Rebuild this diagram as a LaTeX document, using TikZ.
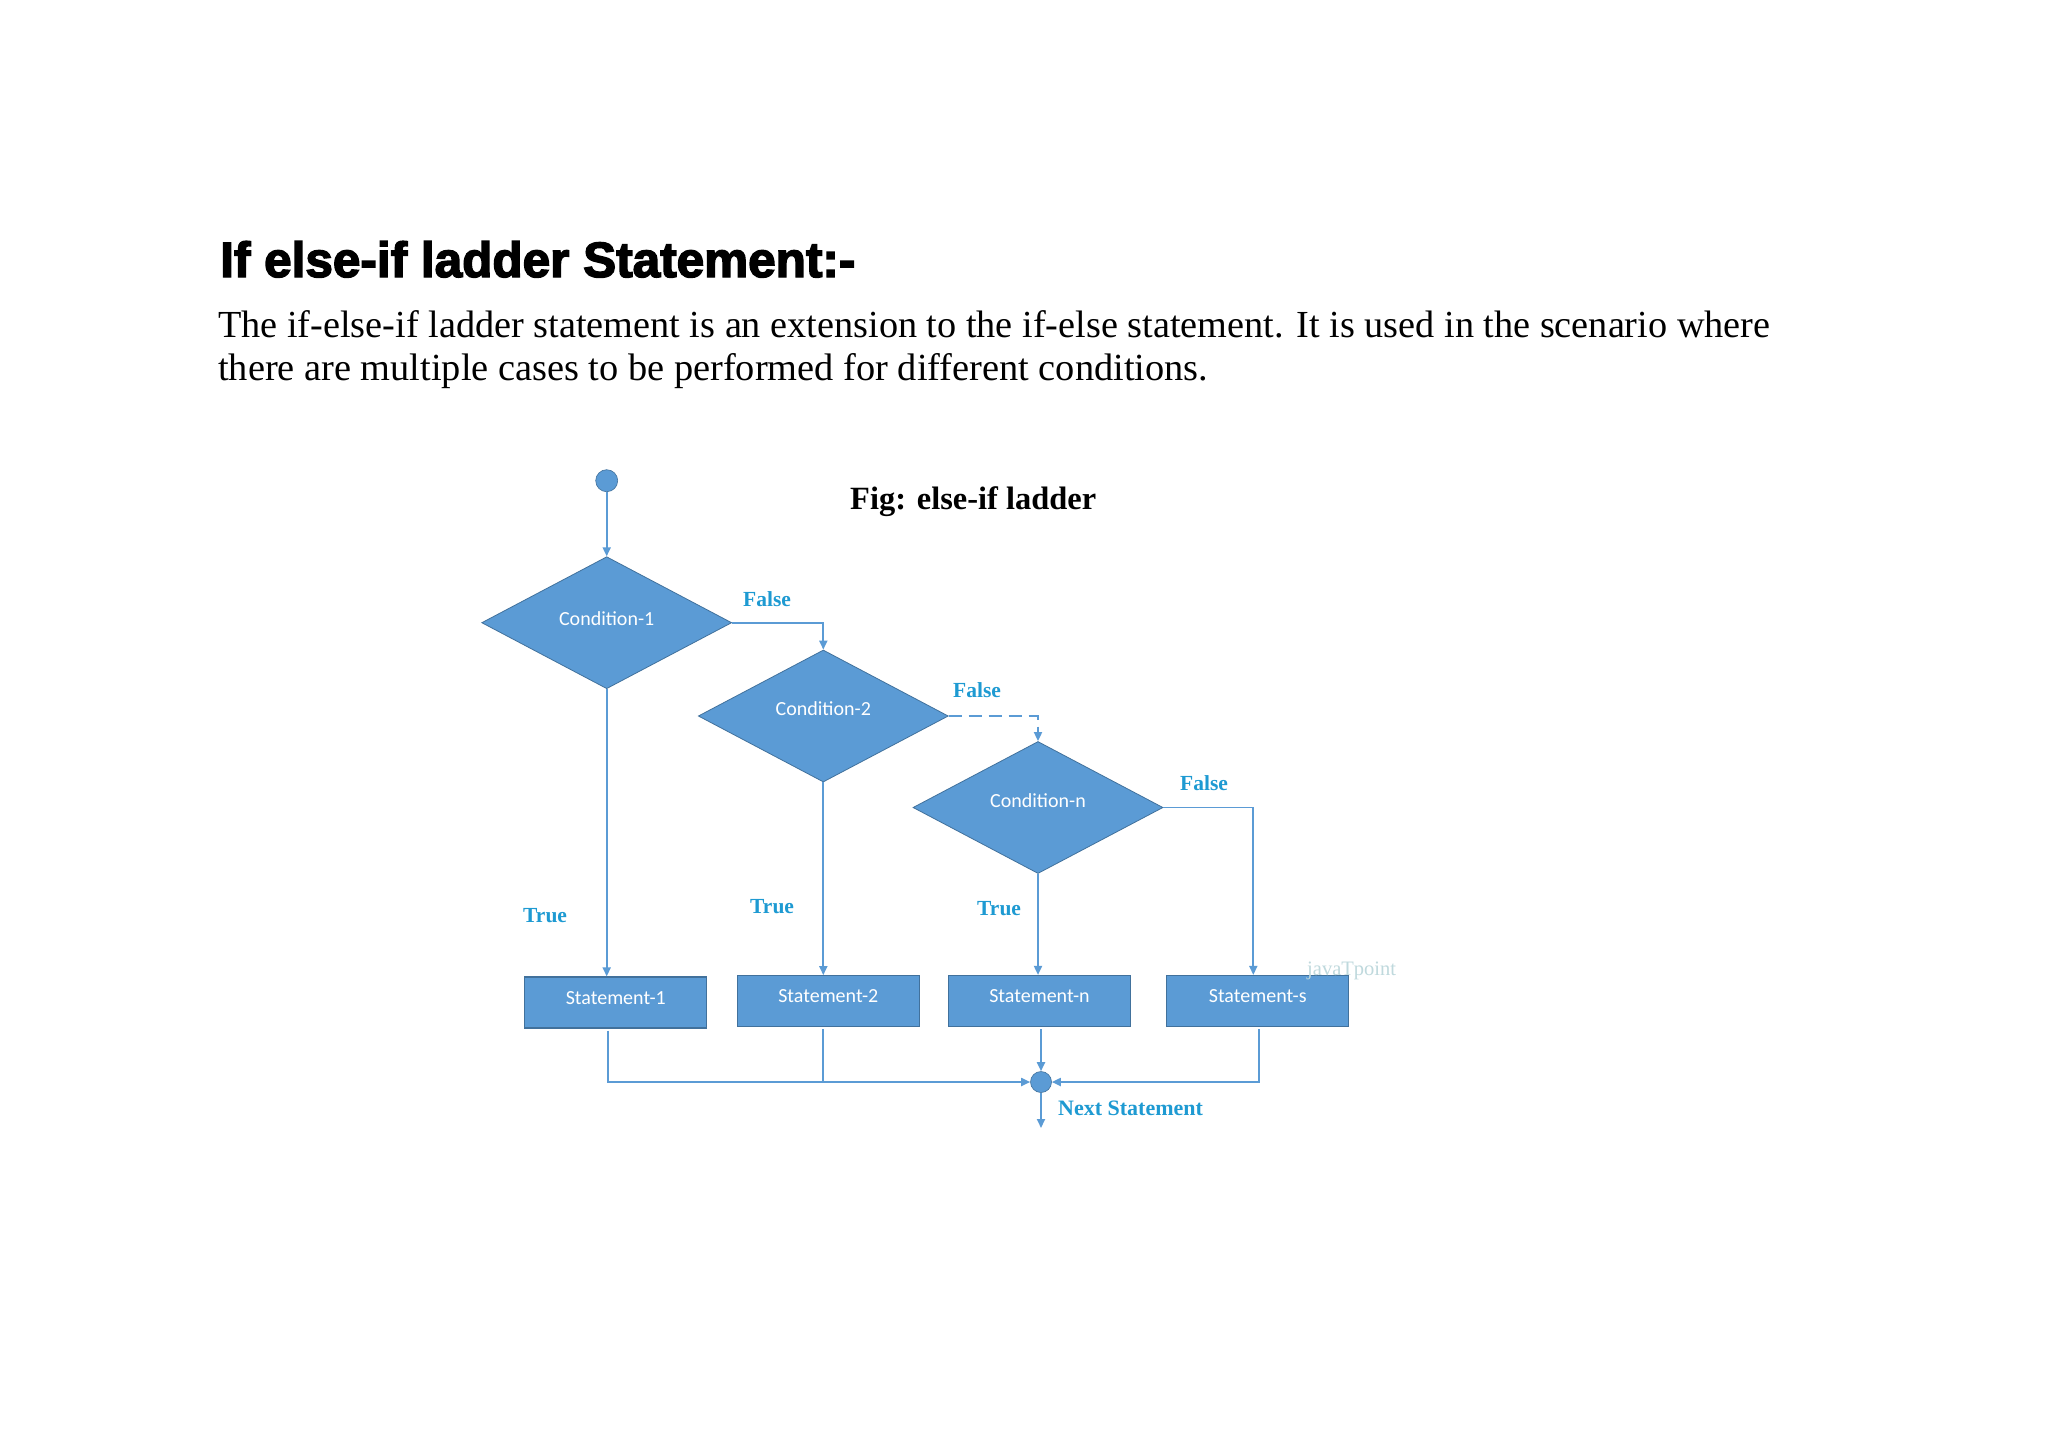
\documentclass[tikz,border=0pt]{standalone}
\usepackage{fontspec}
\usepackage{graphicx}
\setmainfont{Liberation Serif}
\newfontfamily\calfont{Carlito}
\newfontfamily\headfont[FakeBold=3]{Liberation Sans Bold}
\usetikzlibrary{shapes.geometric,arrows.meta}
\definecolor{shapefill}{HTML}{5B9BD5}
\definecolor{shapeborder}{HTML}{41719C}
\definecolor{linecol}{HTML}{5B9BD5}
\definecolor{labelcol}{HTML}{1E9AD2}
\definecolor{wmark}{HTML}{BFD9DD}
\begin{document}
\begin{tikzpicture}[x=1pt,y=-1pt,
  cond/.style={diamond, fill=shapefill, draw=shapeborder, line width=0.8pt, inner sep=0pt,
    minimum width=250pt, minimum height=132pt, text=white, font=\calfont\fontsize{20}{24}\selectfont},
  stmt/.style={rectangle, fill=shapefill, draw=shapeborder, line width=1.2pt, inner sep=0pt,
    minimum width=182pt, minimum height=51pt, text=white, font=\calfont\fontsize{20}{24}\selectfont},
  conn/.style={draw=linecol, line width=1.8pt},
  arr/.style={conn, -{Triangle[length=9pt,width=8pt]}},
  lbl/.style={text=labelcol, font=\bfseries\fontsize{21.5}{25}\selectfont, inner sep=0pt, anchor=base west},
  dot/.style={circle, fill=shapefill, draw=shapeborder, line width=0.6pt, inner sep=0pt, minimum size=22pt},
  txt/.style={inner sep=0pt, anchor=base west}
]
\useasboundingbox (0,0) rectangle (2048,1448);
\fill[white] (0,0) rectangle (2048,1448);

% heading and paragraph
\node[txt] (head) at (220,277) {\resizebox{635pt}{!}{\headfont If else-if ladder Statement:-}};
\node[txt] (p1) at (218,337) {\resizebox{1552pt}{!}{\fontsize{36}{43}\selectfont The if-else-if ladder statement is an extension to the if-else statement. It is used in the scenario where}};
\node[txt] (p2) at (218,380) {\resizebox{990pt}{!}{\fontsize{36}{43}\selectfont there are multiple cases to be performed for different conditions.}};
\node[txt] (fig) at (850,509) {\resizebox{246pt}{!}{\bfseries\fontsize{32}{38}\selectfont Fig: else-if ladder}};

% shapes
\node[dot] (start) at (606.7,480.7) {};
\node[cond] (c1) at (606.7,622.7) {\raisebox{9pt}{Condition-1}};
\node[cond] (c2) at (823.3,716) {\raisebox{14pt}{Condition-2}};
\node[cond] (cn) at (1038,807.5) {\raisebox{14pt}{Condition-n}};

\node[stmt] (s1) at (615.8,1002.5) {\raisebox{10pt}{Statement-1}};
\node[stmt] (s2) at (828.3,1001.2) {\raisebox{10pt}{Statement-2}};
\node[stmt] (sn) at (1039.5,1001) {\raisebox{10pt}{Statement-n}};
\node[stmt] (ss) at (1257.7,1001) {\raisebox{10pt}{Statement-s}};

\node[dot, minimum size=21pt] (m) at (1041,1082) {};
\coordinate (out) at (1041,1128);

% connectors
\draw[arr] (start) -- (c1.north);
\draw[arr] (c1.east) -| (c2.north);
\draw[arr, dash pattern=on 13pt off 7pt] (c2.east) -| (cn.north);
\draw[arr] (cn.east) -| ([xshift=-4.4pt]ss.north);

\draw[arr] (c1.south) -- (c1.south |- s1.north);
\draw[arr] (c2.south) -- (c2.south |- s2.north);
\draw[arr] (cn.south) -- (cn.south |- sn.north);

\draw[arr] ([xshift=-7.5pt,yshift=-2pt]s1.south) |- (m.west);
\draw[conn] ([yshift=-2pt]c2.south |- s2.south) -- (c2.south |- m.west);
\draw[arr] ([yshift=-2pt]m.north |- sn.south) -- (m.north);
\draw[arr] ([xshift=1.3pt,yshift=-2pt]ss.south) |- (m.east);
\draw[arr] (m.south) -- (out);

% labels
\node[lbl] (f1) at (743,606.7) {False};
\node[lbl] (f2) at (953,697) {False};
\node[lbl] (f3) at (1180,790) {False};
\node[lbl] (t1) at (523,922.7) {True};
\node[lbl] (t2) at (750,913) {True};
\node[lbl] (t3) at (977,915) {True};
\node[lbl, font=\bfseries\fontsize{22}{26}\selectfont] (ns) at (1058,1115) {Next Statement};
\node[txt, text=wmark, font=\fontsize{20.5}{24}\selectfont] (wm) at (1307,975) {javaTpoint};
\end{tikzpicture}
\end{document}
